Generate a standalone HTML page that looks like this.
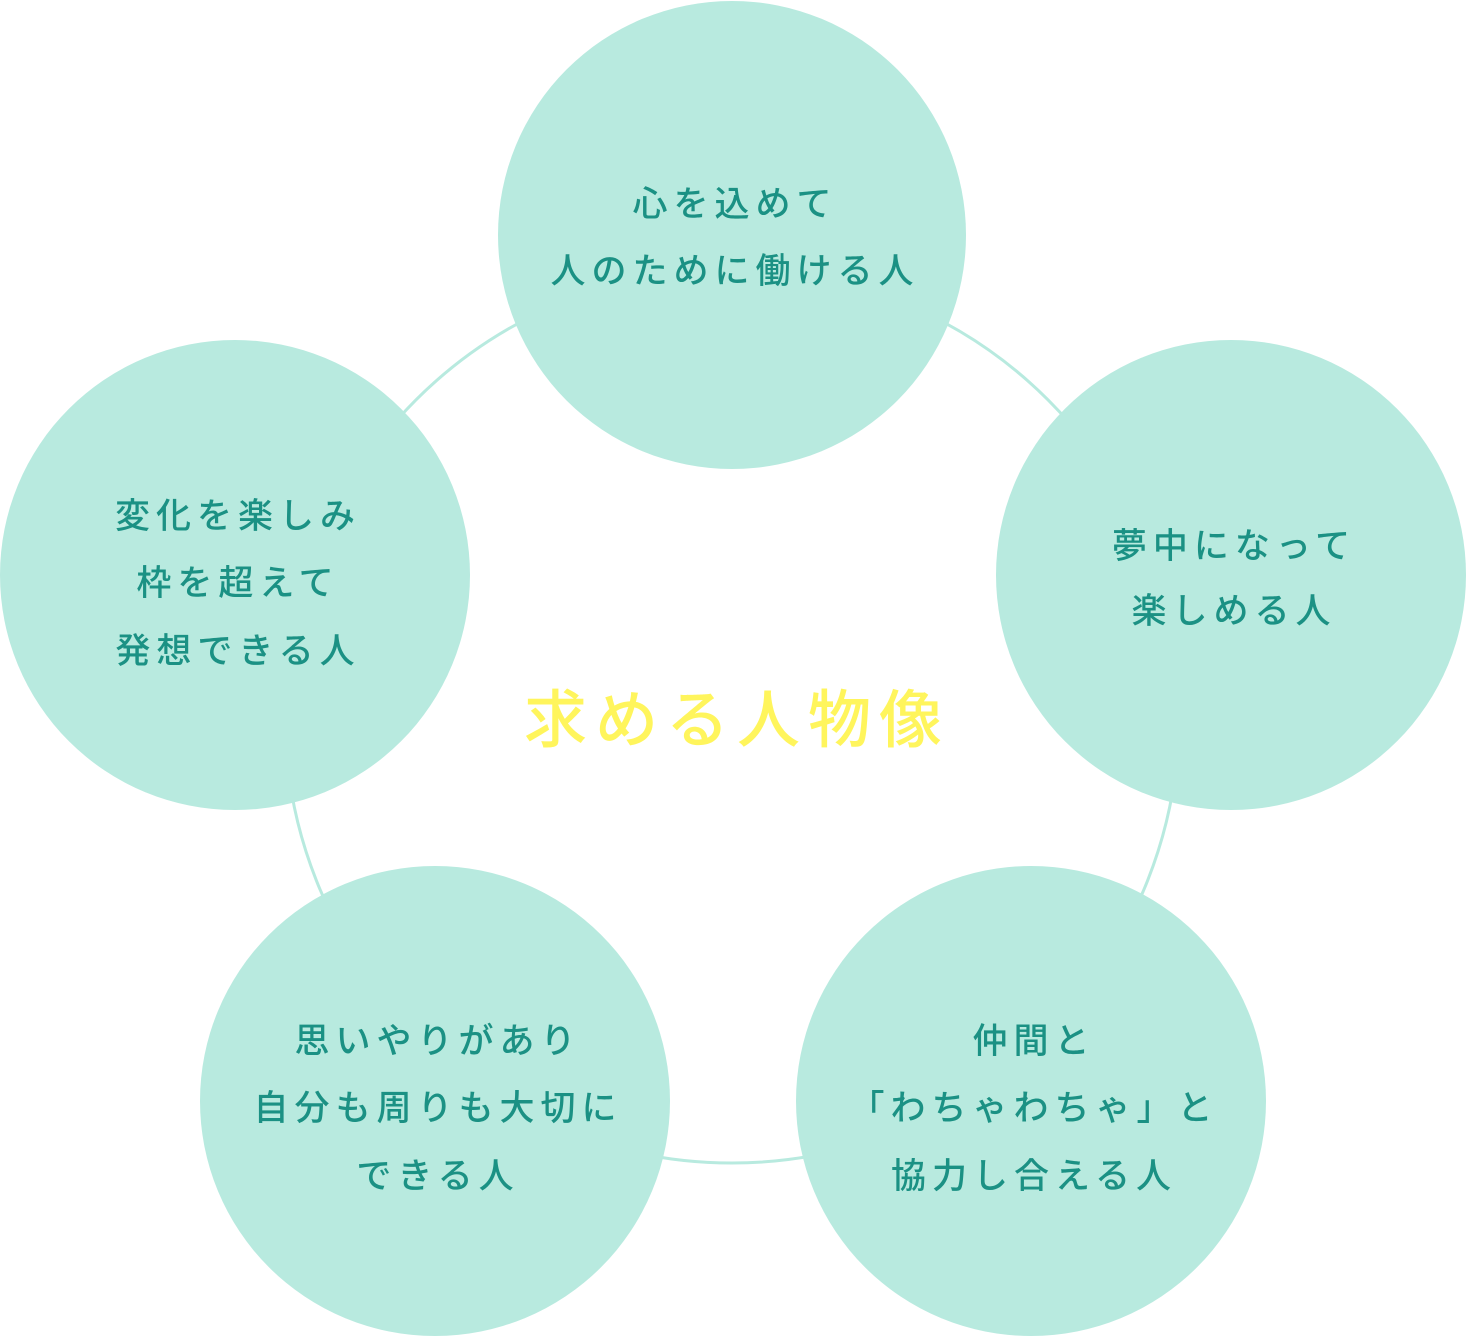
<!DOCTYPE html>
<html><head><meta charset="utf-8"><style>
html,body{margin:0;padding:0;background:#fff;width:1466px;height:1336px;overflow:hidden}
svg{display:block}
.t{font-family:"Liberation Sans","Noto Sans CJK JP",sans-serif;font-size:35px;font-weight:500;fill:#1b9184;letter-spacing:6px;text-anchor:middle}
.h{font-family:"Liberation Sans","Noto Sans CJK JP",sans-serif;font-size:63px;font-weight:500;fill:#fff55c;letter-spacing:8px;text-anchor:middle}
</style></head><body>
<svg width="1466" height="1336" viewBox="0 0 1466 1336">
<circle cx="732" cy="716" r="447" fill="none" stroke="#b8eadf" stroke-width="3"/>
<g fill="#b8eadf">
<circle cx="732" cy="235" r="234"/>
<circle cx="235" cy="575" r="235"/>
<circle cx="1231" cy="575" r="235"/>
<circle cx="435" cy="1101" r="235"/>
<circle cx="1031" cy="1101" r="235"/>
</g>
<text class="h" x="737" y="742">求める人物像</text>
<text class="t" x="735" y="216">心を込めて</text>
<text class="t" x="735" y="283">人のために働ける人</text>
<text class="t" x="238" y="528">変化を楽しみ</text>
<text class="t" x="238" y="595">枠を超えて</text>
<text class="t" x="238" y="663">発想できる人</text>
<text class="t" x="1234" y="558">夢中になって</text>
<text class="t" x="1234" y="623">楽しめる人</text>
<text class="t" x="438" y="1053">思いやりがあり</text>
<text class="t" x="438" y="1120">自分も周りも大切に</text>
<text class="t" x="438" y="1188">できる人</text>
<text class="t" x="1034" y="1053">仲間と</text>
<text class="t" x="1034" y="1120">「わちゃわちゃ」と</text>
<text class="t" x="1034" y="1188">協力し合える人</text>
</svg>
</body></html>
